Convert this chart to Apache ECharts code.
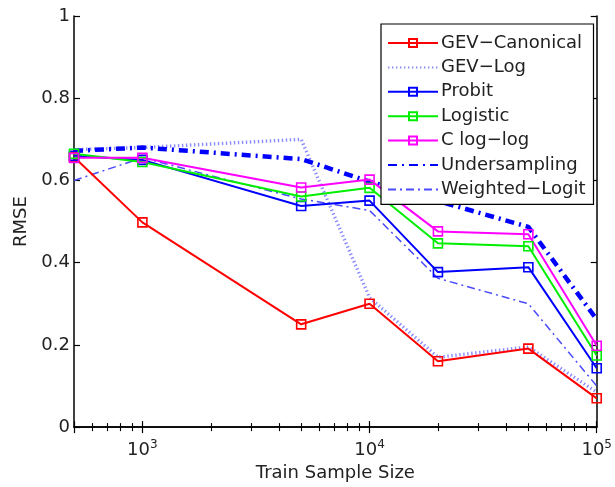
<!DOCTYPE html>
<html>
<head>
<meta charset="utf-8">
<script src="https://cdn.jsdelivr.net/npm/echarts@6/dist/echarts.min.js"></script>
<style>
  html, body { margin: 0; padding: 0; background: #fff; }
  #chart { width: 615px; height: 487px; }
</style>
</head>
<body>
<div id="chart"></div>
<script>
// Training sample sizes (log-scaled x axis)
const sampleSizes = [500, 1000, 5000, 10000, 20000, 50000, 100000];

// RMSE per method
const gevCanonical  = [0.657, 0.498, 0.250, 0.300, 0.160, 0.191, 0.070];
const gevLog        = [0.675, 0.680, 0.700, 0.315, 0.170, 0.195, 0.085];
const probit        = [0.660, 0.650, 0.538, 0.551, 0.377, 0.389, 0.143];
const logistic      = [0.665, 0.645, 0.561, 0.582, 0.447, 0.440, 0.174];
const cLogLog       = [0.655, 0.655, 0.583, 0.602, 0.476, 0.469, 0.198];
const undersampling = [0.672, 0.680, 0.652, 0.597, 0.550, 0.487, 0.262];
const weightedLogit = [0.600, 0.655, 0.555, 0.527, 0.362, 0.300, 0.100];

const seriesNames = ['GEV\u2212Canonical', 'GEV\u2212Log', 'Probit', 'Logistic',
                     'C log\u2212log', 'Undersampling', 'Weighted\u2212Logit'];

// Major tick exponents labelled on the x axis
const xTickExponents = [3, 4, 5];

const FONT = '"DejaVu Sans", sans-serif';
const TEXT = '#222';

function pairs(values) {
  return sampleSizes.map((x, i) => [x, values[i]]);
}

function markedLine(name, color, values) {
  return {
    name: name, type: 'line', xAxisIndex: 0, yAxisIndex: 0,
    data: pairs(values),
    symbol: 'rect', symbolSize: 9, showAllSymbol: true,
    lineStyle: { color: color, width: 2 },
    itemStyle: { color: 'rgba(255,255,255,0)', borderColor: color, borderWidth: 1.6 },
    emphasis: { disabled: true },
    z: 3
  };
}

function styledLine(name, color, width, dash, values) {
  return {
    name: name, type: 'line', xAxisIndex: 0, yAxisIndex: 0,
    data: pairs(values),
    symbol: 'none',
    lineStyle: { color: color, width: width, type: dash },
    // transparent item colour keeps the legend icon a plain line sample
    itemStyle: { color: 'rgba(0,0,0,0)', borderWidth: 0 },
    emphasis: { disabled: true },
    z: 2
  };
}

const chart = echarts.init(document.getElementById('chart'), null, { renderer: 'canvas' });

const axisLine = { show: true, lineStyle: { color: '#000', width: 1.5 } };
const majorTick = { show: true, inside: true, length: 6, lineStyle: { color: '#000', width: 1.2 } };
const logMinorTick = { show: true, splitNumber: 9, length: 4, lineStyle: { color: '#000', width: 1.1 } };

chart.setOption({
  animation: false,
  backgroundColor: '#fff',
  textStyle: { fontFamily: FONT },
  grid: { left: 74, right: 15, top: 16, bottom: 57, containLabel: false },
  xAxis: [
    {
      type: 'log', logBase: 10, min: 500, max: 100000, position: 'bottom',
      name: 'Train Sample Size', nameLocation: 'middle', nameGap: 33,
      nameTextStyle: { color: TEXT, fontSize: 18, fontFamily: FONT },
      axisLine: axisLine,
      axisTick: majorTick,
      minorTick: logMinorTick,
      splitLine: { show: false },
      minorSplitLine: { show: false },
      axisLabel: {
        color: TEXT, fontSize: 18, fontFamily: FONT, margin: 12,
        formatter: function (v) {
          const e = Math.round(Math.log10(v));
          if (Math.abs(Math.log10(v) - e) > 1e-6 || xTickExponents.indexOf(e) < 0) return '';
          return '10{sup|' + e + '}';
        },
        rich: { sup: { fontSize: 12, verticalAlign: 'top', padding: [0, 0, 10, 0], color: TEXT, fontFamily: FONT } }
      }
    },
    {
      type: 'log', logBase: 10, min: 500, max: 100000, position: 'top',
      axisLine: axisLine,
      axisTick: majorTick,
      minorTick: logMinorTick,
      axisLabel: { show: false },
      splitLine: { show: false },
      minorSplitLine: { show: false }
    }
  ],
  yAxis: [
    {
      type: 'value', min: 0, max: 1, interval: 0.2, position: 'left',
      name: 'RMSE', nameLocation: 'middle', nameGap: 36, nameRotate: 90,
      nameTextStyle: { color: TEXT, fontSize: 18, fontFamily: FONT },
      axisLine: axisLine,
      axisTick: majorTick,
      splitLine: { show: false },
      axisLabel: { color: TEXT, fontSize: 18, fontFamily: FONT, margin: 4 }
    },
    {
      type: 'value', min: 0, max: 1, interval: 0.2, position: 'right',
      axisLine: axisLine,
      axisTick: majorTick,
      axisLabel: { show: false },
      splitLine: { show: false }
    }
  ],
  legend: {
    data: seriesNames,
    orient: 'vertical', left: 381, top: 24,
    backgroundColor: '#fff', borderColor: '#000', borderWidth: 1.2,
    padding: [10, 8, 6, 6],
    itemWidth: 50, itemHeight: 10, itemGap: 6.4,
    textStyle: { color: TEXT, fontSize: 18, fontFamily: FONT, padding: [0, 0, 0, -2] },
    selectedMode: false
  },
  series: [
    markedLine(seriesNames[0], '#ff0000', gevCanonical),
    styledLine(seriesNames[1], '#8a8aff', 3.4, [1.4, 2.6], gevLog),
    markedLine(seriesNames[2], '#0000ff', probit),
    markedLine(seriesNames[3], '#00ee00', logistic),
    markedLine(seriesNames[4], '#ff00ff', cLogLog),
    styledLine(seriesNames[5], '#0000ff', 4.5, [9, 5, 2, 5], undersampling),
    styledLine(seriesNames[6], '#4a4aff', 1.5, [8, 4, 2, 4], weightedLogit)
  ]
});
</script>
</body>
</html>
